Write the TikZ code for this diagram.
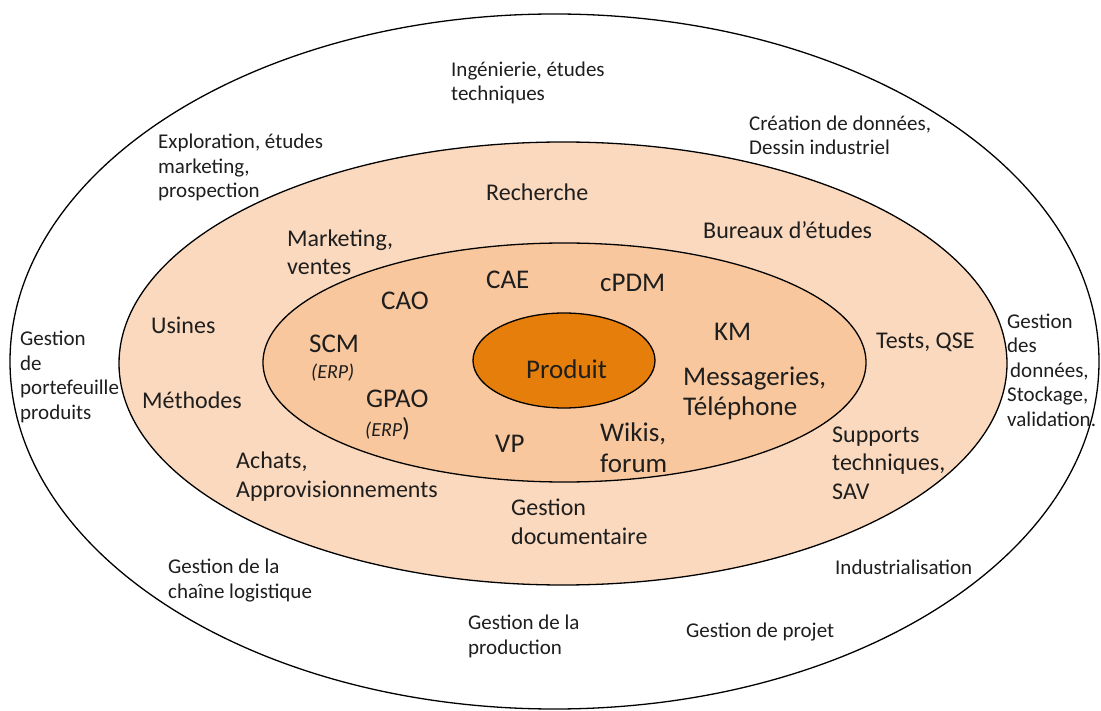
\documentclass[tikz,border=0pt]{standalone}
\usepackage{fontspec}
\setmainfont{Carlito}
\definecolor{ringA}{HTML}{FBD9BE}
\definecolor{ringB}{HTML}{F9C79D}
\definecolor{core}{HTML}{E67E0B}
\definecolor{txt}{HTML}{1E1E1E}
\begin{document}
\begin{tikzpicture}[x=1pt,y=-1pt,
  lbl/.style={anchor=base west, inner sep=0pt, align=left, text=txt},
  small/.style={lbl, font=\fontsize{21}{24.5}\selectfont},
  medium/.style={lbl, font=\fontsize{24}{28.5}\selectfont},
  large/.style={lbl, font=\fontsize{27}{30.5}\selectfont},
  erp/.style={lbl, font=\fontsize{20}{22}\selectfont\itshape},
  ring/.style={draw=black, line width=1.3pt}]
\useasboundingbox (0,0) rectangle (1101,711);
\fill[white] (0,0) rectangle (1101,711);
% ellipses
\draw[ring, fill=white] (554.5,361.5) ellipse [x radius=544.5pt, y radius=347.5pt];
\draw[ring, fill=ringA] (563,363.5) ellipse [x radius=444pt, y radius=221.5pt];
\draw[ring, fill=ringB] (564.5,362.5) ellipse [x radius=301.5pt, y radius=119.5pt];
\draw[ring, fill=core] (564,360.5) ellipse [x radius=91pt, y radius=47.5pt];
\begin{scope}[shift={(0,2)}]
% outer ring labels (anchor = baseline of last line)
\node[small] (ing) at (451,99) {Ingénierie, études\\techniques};
\node[small] (crea) at (749,153) {Création de données,\\Dessin industriel};
\node[small] (explo) at (158,196) {Exploration, études\\marketing,\\prospection};
\node[small] (porte) at (20,417) {Gestion\\de\\portefeuille\\produits};
\node[small] (donn) at (1007,424) {Gestion\\des\\\hspace*{3pt}données,\\Stockage,\\validation.};
\node[small] (chaine) at (168,596) {Gestion de la\\chaîne logistique};
\node[small] (prod) at (468,652) {Gestion de la\\production};
\node[small] (projet) at (686,635) {Gestion de projet};
\node[small] (indus) at (835,572) {Industrialisation};
% second ring labels
\node[medium] (rech) at (486,199) {Recherche};
\node[medium] (mkt) at (287,273) {Marketing,\\ventes};
\node[medium] (bur) at (703,237) {Bureaux d’études};
\node[medium] (usines) at (151,332) {Usines};
\node[medium] (meth) at (142,407) {Méthodes};
\node[medium] (tests) at (876,347) {Tests, QSE};
\node[medium] (achats) at (236,495) {Achats,\\Approvisionnements};
\node[medium] (gdoc) at (511,542) {Gestion\\documentaire};
\node[medium] (supp) at (832,497) {Supports\\techniques,\\SAV};
% inner ring labels
\node[large] (cae) at (486,287) {CAE};
\node[large] (cpdm) at (600,290) {cPDM};
\node[large] (cao) at (381,308) {CAO};
\node[large] (km) at (714,339) {KM};
\node[large] (scm) at (309,351) {SCM};
\node[erp] (erpa) at (311,376) {(ERP)};
\node[large] (gpao) at (366,405) {GPAO};
\node[erp] (erpb) at (365,434) {(ERP\upshape\fontsize{26}{26}\selectfont)};
\node[large] (vp) at (495,450) {VP};
\node[large] (wikis) at (600,470) {Wikis,\\forum};
\node[large] (mess) at (683,414) {Messageries,\\Téléphone};
\node[large] (produit) at (526,376) {Produit};
\end{scope}
\end{tikzpicture}
\end{document}
